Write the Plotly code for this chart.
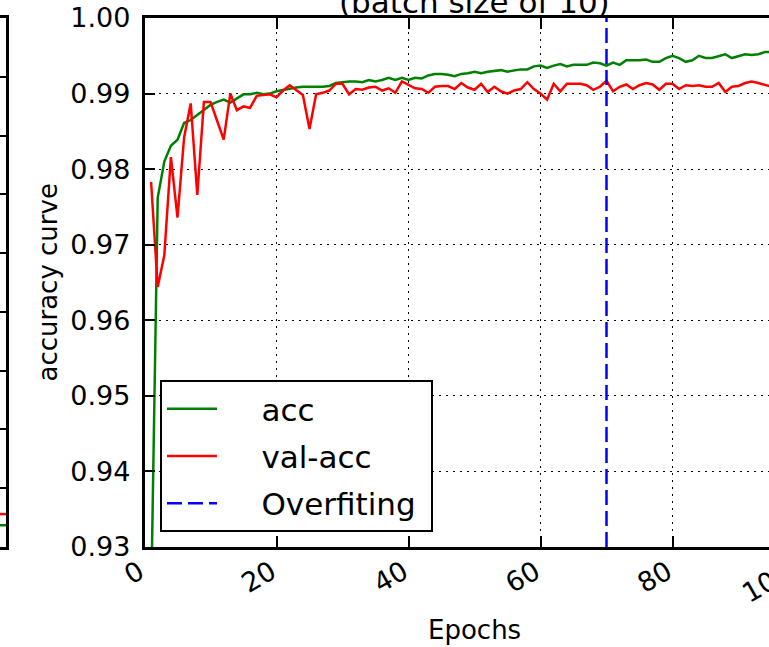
import plotly.graph_objects as go

# main panel: accuracy per epoch (epochs 1..95 are visible in the crop)
epochs = list(range(1, 96))
acc = [0.9225, 0.9762, 0.9810, 0.9831, 0.9839, 0.9861, 0.9865, 0.9872, 0.9879, 0.9885,
       0.9889, 0.9892, 0.9888, 0.9894, 0.9899, 0.9899, 0.9901, 0.9899, 0.9900, 0.9903,
       0.9905, 0.9907, 0.9908, 0.9909, 0.9909, 0.9909, 0.9909, 0.9910, 0.9914, 0.9915,
       0.9916, 0.9916, 0.9915, 0.9918, 0.9916, 0.9918, 0.9921, 0.9918, 0.9921, 0.9918,
       0.9921, 0.9920, 0.9924, 0.9926, 0.9926, 0.9925, 0.9923, 0.9926, 0.9927, 0.9929,
       0.9927, 0.9929, 0.9930, 0.9931, 0.9929, 0.9930, 0.9932, 0.9932, 0.9936, 0.9937,
       0.9934, 0.9937, 0.9939, 0.9936, 0.9938, 0.9938, 0.9938, 0.9941, 0.9940, 0.9937,
       0.9941, 0.9938, 0.9944, 0.9944, 0.9944, 0.9945, 0.9942, 0.9942, 0.9947, 0.9950,
       0.9947, 0.9942, 0.9944, 0.9950, 0.9947, 0.9947, 0.9950, 0.9952, 0.9947, 0.9949,
       0.9952, 0.9951, 0.9952, 0.9955, 0.9955]
val_acc = [0.9783, 0.9644, 0.9686, 0.9816, 0.9736, 0.9842, 0.9887, 0.9766, 0.9889, 0.9889,
           0.9864, 0.9839, 0.9900, 0.9878, 0.9883, 0.9881, 0.9897, 0.9898, 0.9899, 0.9895,
           0.9904, 0.9911, 0.9904, 0.9898, 0.9853, 0.9899, 0.9901, 0.9904, 0.9913, 0.9913,
           0.9899, 0.9906, 0.9905, 0.9908, 0.9909, 0.9904, 0.9907, 0.9901, 0.9916, 0.9911,
           0.9907, 0.9906, 0.9901, 0.9909, 0.9910, 0.9910, 0.9906, 0.9914, 0.9908, 0.9905,
           0.9913, 0.9902, 0.9909, 0.9903, 0.9900, 0.9904, 0.9906, 0.9915, 0.9906, 0.9900,
           0.9892, 0.9913, 0.9903, 0.9913, 0.9913, 0.9913, 0.9911, 0.9905, 0.9909, 0.9917,
           0.9903, 0.9909, 0.9912, 0.9906, 0.9911, 0.9914, 0.9912, 0.9905, 0.9913, 0.9913,
           0.9906, 0.9911, 0.9910, 0.9911, 0.9909, 0.9909, 0.9914, 0.9902, 0.9909, 0.9910,
           0.9914, 0.9916, 0.9914, 0.9911, 0.9909]
overfit_epoch = 70

x_ticks = [0, 20, 40, 60, 80, 100]
y_ticks = [0.93, 0.94, 0.95, 0.96, 0.97, 0.98, 0.99, 1.00]

# sliver of the neighbouring (loss) panel on the far left
left_epochs = [98, 100]
left_val = [0.056, 0.056]
left_train = [0.037, 0.037]

W, H = 769, 647
X0 = 144.5            # px of epoch 0
PX_PER_EPOCH = 6.6
X_MAX = (W - X0) / PX_PER_EPOCH
FONT = 'DejaVu Sans'
GREEN, RED, BLUE = '#008000', '#ff0000', '#0000ff'
PAD = '\u00a0' * 4    # gap between legend sample and label, as in matplotlib

fig = go.Figure()
fig.add_trace(go.Scatter(x=epochs, y=acc, mode='lines', name=PAD + 'acc',
                         line={'color': GREEN, 'width': 2.5}, legendgroup='a'))
fig.add_trace(go.Scatter(x=epochs, y=val_acc, mode='lines', name=PAD + 'val-acc',
                         line={'color': RED, 'width': 2.5}, legendgroup='b'))
fig.add_trace(go.Scatter(x=[overfit_epoch, overfit_epoch], y=[y_ticks[0], y_ticks[-1]],
                         mode='lines', name=PAD + 'Overfiting\u00a0', legendgroup='c',
                         line={'color': BLUE, 'width': 2.5, 'dash': '15px,6px'}))
fig.add_trace(go.Scatter(x=left_epochs, y=left_val, mode='lines', showlegend=False,
                         line={'color': RED, 'width': 2.5}, xaxis='x2', yaxis='y2'))
fig.add_trace(go.Scatter(x=left_epochs, y=left_train, mode='lines', showlegend=False,
                         line={'color': GREEN, 'width': 2.5}, xaxis='x2', yaxis='y2'))

axis_common = dict(showline=True, linecolor='black', linewidth=2.5, ticks='inside',
                   ticklen=11, tickwidth=1.5, tickcolor='black', zeroline=False,
                   automargin=False,
                   tickfont={'family': FONT, 'size': 27, 'color': 'black'})

fig.update_layout(
    width=W, height=H,
    margin={'l': 0, 'r': 0, 't': 18, 'b': 100, 'autoexpand': False},
    paper_bgcolor='white', plot_bgcolor='white',
    font={'family': FONT, 'color': 'black'},
    xaxis=dict(axis_common, domain=[X0 / W, 1], range=[0, X_MAX], tickvals=x_ticks[:-1],
               tickangle=-30, mirror='ticks', showgrid=True, gridcolor='black',
               gridwidth=1.3, griddash='2px,5px', ticklabelstandoff=-4,
               ticklabelshift=-5),
    yaxis=dict(axis_common, range=[y_ticks[0], y_ticks[-1]], tickvals=y_ticks,
               tickformat='.2f', mirror=False, showgrid=True, gridcolor='black',
               gridwidth=1.3, griddash='2px,5px', ticklabelstandoff=6),
    xaxis2=dict(domain=[0, 6 / W], range=[left_epochs[0], left_epochs[-1]], anchor='y2',
                showline=True, mirror=True, linecolor='black', linewidth=2.5,
                showticklabels=False, ticks='', showgrid=False, zeroline=False,
                automargin=False),
    yaxis2=dict(domain=[0, 1], range=[0, 0.9], dtick=0.1, anchor='x2', side='right',
                showline=True, linecolor='black', linewidth=2.5, ticks='inside',
                ticklen=10, tickwidth=1.5, tickcolor='black', showticklabels=False,
                showgrid=False, zeroline=False, automargin=False),
    legend=dict(x=160 / W, y=(547 - 380) / 529, xanchor='left', yanchor='top',
                bgcolor='white', bordercolor='black', borderwidth=2,
                font={'family': FONT, 'size': 31, 'color': 'black'},
                itemwidth=50, tracegroupgap=4, traceorder='grouped'),
    showlegend=True,
)

fig.add_annotation(text='(batch size of 10)', xref='x', yref='paper', x=50, y=1.03,
                   xanchor='center', yanchor='middle', showarrow=False,
                   font={'family': FONT, 'size': 31, 'color': 'black'})
fig.add_annotation(text='Epochs', xref='x', yref='paper', x=50, y=-0.157,
                   xanchor='center', yanchor='middle', showarrow=False,
                   font={'family': FONT, 'size': 26, 'color': 'black'})
fig.add_annotation(text='accuracy curve', xref='paper', yref='paper', x=47 / W, y=0.5,
                   xanchor='center', yanchor='middle', textangle=-90, showarrow=False,
                   font={'family': FONT, 'size': 26, 'color': 'black'})
# the "100" tick label sits past the cropped right edge
fig.add_annotation(text=str(x_ticks[-1]), xref='x domain', yref='paper',
                   x=x_ticks[-1] / X_MAX, y=-0.012, xanchor='right', yanchor='top',
                   xshift=-5, textangle=-30, showarrow=False,
                   font={'family': FONT, 'size': 27, 'color': 'black'})

fig.write_html('out.html', config={'displayModeBar': False},
               post_script="document.body.style.margin='0';")
